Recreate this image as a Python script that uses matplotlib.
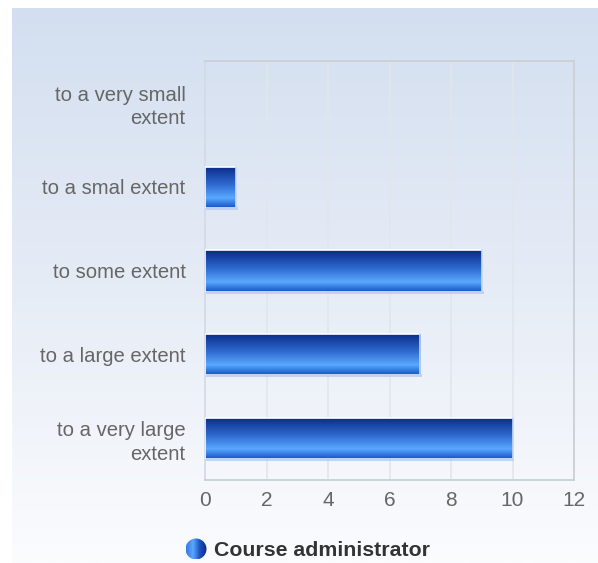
import numpy as np
import matplotlib
matplotlib.use("Agg")
from matplotlib import pyplot as plt
from matplotlib.colors import LinearSegmentedColormap

categories = ["to a very small\nextent", "to a smal extent", "to some extent",
              "to a large extent", "to a very large\nextent"]
values = [0, 1, 9, 7, 10]
series_name = "Course administrator"
x_ticks = [0, 2, 4, 6, 8, 10, 12]

plt.rcParams["font.family"] = ["Liberation Sans", "DejaVu Sans"]

W, H = 598, 563
fig = plt.figure(figsize=(W / 100, H / 100), dpi=100)
fig.patch.set_facecolor("white")

# background panel with vertical gradient
bg = fig.add_axes([12 / W, 0, 1 - 12 / W, (H - 8) / H])
bg_cmap = LinearSegmentedColormap.from_list("bg", ["#d3dff0", "#e6ecf6", "#fbfcfe"])
bg.imshow(np.linspace(0, 1, 256).reshape(-1, 1), aspect="auto", cmap=bg_cmap,
          extent=[0, 1, 0, 1], origin="upper")
bg.set_axis_off()

ax = fig.add_axes([205 / W, (H - 480) / H, 369 / W, (480 - 61) / H])
ax.patch.set_alpha(0)

ypos = np.arange(len(categories))[::-1]
bars = ax.barh(ypos, values, height=0.48, color="none", edgecolor="none", zorder=3)

bar_cmap = LinearSegmentedColormap.from_list(
    "bar", [(0, "#0a2a86"), (0.45, "#2f6ad0"), (0.78, "#5aa8ff"), (1, "#1b5ccc")])
grad = np.linspace(0, 1, 100).reshape(-1, 1)
for b in bars:
    x0, y0, w, h = b.get_x(), b.get_y(), b.get_width(), b.get_height()
    if w <= 0:
        continue
    # soft shadow below bar
    ax.fill_between([x0, x0 + w + 0.06], y0 - 0.035, y0, color="#b9cbee",
                    alpha=0.8, zorder=2, linewidth=0)
    im = ax.imshow(grad, aspect="auto", cmap=bar_cmap, origin="upper",
                   extent=[x0, x0 + w, y0, y0 + h], zorder=3)
    im.set_clip_path(b)
    ax.plot([x0, x0, x0 + w], [y0, y0 + h, y0 + h], color="white", lw=1.2, zorder=4)
    ax.plot([x0 + w, x0 + w], [y0, y0 + h], color="#c6d8f6", lw=1.2, zorder=4)

ax.set_xlim(0, 12)
ax.set_ylim(-0.5, len(categories) - 0.5)
ax.set_xticks(x_ticks)
ax.set_xticklabels([str(t) for t in x_ticks], fontsize=15)
ax.set_yticks(ypos)
ax.set_yticklabels(categories, ha="right", linespacing=1.3, fontsize=14.6)
ax.tick_params(axis="both", length=0, labelcolor="#666666")
ax.tick_params(axis="x", pad=8)
ax.tick_params(axis="y", pad=14)
ax.grid(axis="x", color="#e2e6ec", lw=1.2, zorder=1)
ax.set_axisbelow(True)
for s in ax.spines.values():
    s.set_color("#cbcfd6")
    s.set_linewidth(1.3)
ax.spines["left"].set_color("#d4dbe6")

# legend: gradient circle + bold label
leg = fig.add_axes([0, 0, 1, 1])
leg.set_xlim(0, W)
leg.set_ylim(H, 0)
leg.set_axis_off()
cx, cy, r = 196, 549, 10.5
circ = plt.Circle((cx, cy), r, transform=leg.transData, color="none")
leg.add_patch(circ)
leg_cmap = LinearSegmentedColormap.from_list("leg", ["#3a78e0", "#5aa8ff", "#1a50c0", "#0a2a86"])
lim = leg.imshow(np.linspace(0, 1, 100).reshape(1, -1), aspect="auto", cmap=leg_cmap,
                 extent=[cx - r, cx + r, cy + r, cy - r])
lim.set_clip_path(circ)
leg.set_xlim(0, W)
leg.set_ylim(H, 0)
leg.text(214, cy + 1, series_name, fontsize=15.3, fontweight="bold", color="#333333",
         va="center", ha="left")

fig.savefig("out.png", dpi=100)
